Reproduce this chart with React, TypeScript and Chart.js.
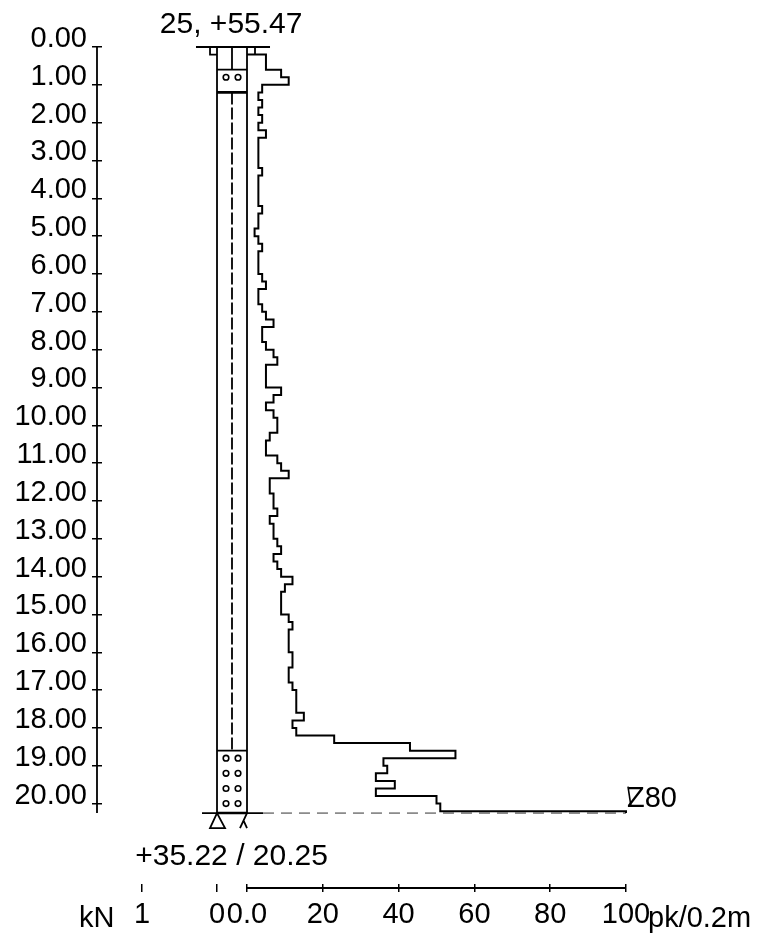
import React, { useEffect, useRef } from "react";
import { Chart, registerables } from "chart.js";

Chart.register(...registerables);

const FONT = "'Liberation Sans', Arial, sans-serif";
const FONT_SIZE = 29;
const NOTE_SIZE = 30;

// Blow counts per 0.2 m, first entry starts at 0.20 m depth
const STEP = 0.2;
const START_DEPTH = 0.2;
const END_DEPTH = 20.25;
const pkValues = [
  5, 5, 9, 11, 4, 3, 4, 3, 4, 3, 5,
  3, 3, 3, 3, 4, 3, 3, 3, 3, 4, 3, 3, 2, 3, 4, 3, 3, 3, 4, 5, 3, 3, 4, 5, 7,
  4, 4, 5, 7, 8, 5, 5, 5, 9, 7, 5, 7, 8, 8, 6, 5, 5, 8, 9, 11, 6, 6, 7, 7, 8,
  6, 7, 7, 8, 9, 7, 8, 9, 12, 10, 9, 9, 9, 11, 12, 11, 11, 11, 12, 12, 11, 11, 12,
  13, 13, 13, 15, 12, 13, 23, 43, 55, 36, 37, 34, 39, 34, 50, 51, 100,
];

const depthTicks = Array.from({ length: 21 }, (_, i) => i);
const pkTicks = [0, 20, 40, 60, 80, 100];
const knTicks = [1, 0];

const topLabel = "25, +55.47";
const bottomLabel = "+35.22 / 20.25";
const leftUnit = "kN";
const rightUnit = "pk/0.2m";
const endLabel = "Z80";

type P = { x: number; y: number } | { x: null; y: null };
const GAP: P = { x: null, y: null };

// Pile schematic, in pk (x) and depth (y) units
const WALL_L = -7.916;
const WALL_R = 0;
const CENTER = -3.96;
const CAP_L = -9.76;
const CAP_R = 2.11;
const TOP_L = -13.46;
const TOP_R = 6.07;
const BASE_L = -11.87;
const BASE_R = 4.22;
const AXIS_X = -39.58;
const AXIS_Y = 22.231;
const Y_MAX = 22.125;
const X_MIN = -38.26;
const X_MAX = 100;
const KN_MIN = -5.453;
const KN_MAX = 1.533;

const seg = (list: number[][]): P[] => {
  const out: P[] = [];
  list.forEach((s) => {
    for (let i = 0; i < s.length; i += 2) out.push({ x: s[i], y: s[i + 1] });
    out.push(GAP);
  });
  return out;
};

const pileLines = seg([
  [WALL_L, 0, WALL_L, END_DEPTH],
  [WALL_R, 0, WALL_R, END_DEPTH],
  [CENTER, 0, CENTER, 0.6],
  [TOP_L, 0, TOP_R, 0],
  [CAP_L, 0, CAP_L, 0.2, WALL_L, 0.2],
  [CAP_R, 0, CAP_R, 0.2],
  [WALL_L, 0.6, WALL_R, 0.6],
  [WALL_L, 18.6, WALL_R, 18.6],
  [BASE_L, END_DEPTH, BASE_R, END_DEPTH],
  [-7.916, 20.25, -9.76, 20.65, -5.8, 20.65, -7.916, 20.25],
  [0, 20.25, -1.85, 20.65],
  [-0.9, 20.45, 0, 20.65],
]);
const heavyLines = seg([
  [WALL_L, 1.2, WALL_R, 1.2],
  [WALL_L, END_DEPTH, WALL_R, END_DEPTH],
]);
const centerDash = seg([[CENTER, 1.2, CENTER, 18.6]]);
const waterDash = seg([[BASE_R, END_DEPTH, 100, END_DEPTH]]);
const holeXs = [-5.54, -2.37];
const holeDepths = [0.8, 18.8, 19.2, 19.6, 20.0];
const holes = holeDepths.flatMap((y) => holeXs.map((x) => ({ x, y })));
const depthAxis = seg([[AXIS_X, 0, AXIS_X, END_DEPTH]]);
const pkAxis = seg([[0, AXIS_Y, 100, AXIS_Y]]);
const knAxis = seg([[1, AXIS_Y, 0, AXIS_Y]]);

const profile = (): P[] => {
  const pts: P[] = [{ x: 0, y: START_DEPTH }];
  pkValues.forEach((v, i) => {
    const d0 = START_DEPTH + i * STEP;
    const d1 = i === pkValues.length - 1 ? END_DEPTH : d0 + STEP;
    pts.push({ x: v, y: d0 }, { x: v, y: d1 });
  });
  return pts;
};

const line = (data: P[], extra: object = {}) => ({
  type: "scatter" as const,
  data,
  showLine: true,
  spanGaps: false,
  borderColor: "#000",
  borderWidth: 1.8,
  pointRadius: 0,
  tension: 0,
  clip: false,
  xAxisID: "x",
  yAxisID: "y",
  ...extra,
});

const textPlugin = {
  id: "labels",
  afterDraw(chart: any) {
    const { ctx, scales } = chart;
    const px = (v: number) => scales.x.getPixelForValue(v);
    const py = (v: number) => scales.y.getPixelForValue(v);
    ctx.save();
    ctx.fillStyle = "#000";
    ctx.strokeStyle = "#000";
    ctx.font = `${NOTE_SIZE}px ${FONT}`;
    ctx.textBaseline = "alphabetic";
    ctx.textAlign = "left";
    ctx.fillText(topLabel, px(-23), 33);
    ctx.fillText(bottomLabel, px(-29.5), py(21.63));
    ctx.font = `${FONT_SIZE}px ${FONT}`;
    ctx.fillText(leftUnit, 79, 927);
    ctx.fillText(rightUnit, 648, 927);
    const ex = px(100) + 1;
    const ey = py(20.0) + 3;
    ctx.fillText(endLabel, ex, ey);
    ctx.lineWidth = 1.6;
    ctx.beginPath();
    ctx.moveTo(ex + 1, ey - 20);
    ctx.lineTo(ex + 4, ey);
    ctx.stroke();
    ctx.restore();
  },
};

export default function App() {
  const ref = useRef<HTMLCanvasElement>(null);
  useEffect(() => {
    const tickFont = { family: FONT, size: FONT_SIZE };
    const chart = new Chart(ref.current!, {
      type: "scatter",
      plugins: [textPlugin],
      data: {
        datasets: [
          line(profile(), { borderWidth: 2 }),
          line(pileLines),
          line(heavyLines, { borderWidth: 2.6 }),
          line(centerDash, { borderDash: [12, 3] }),
          line(waterDash, { borderWidth: 1, borderDash: [11, 7], borderColor: "#333" }),
          line(depthAxis),
          line(pkAxis),
          line(knAxis),
          {
            type: "scatter",
            data: holes,
            showLine: false,
            pointRadius: 2.8,
            pointBackgroundColor: "#fff",
            pointBorderColor: "#000",
            pointBorderWidth: 1.6,
            clip: false,
            xAxisID: "x",
            yAxisID: "y",
          },
        ],
      } as any,
      options: {
        responsive: false,
        animation: false,
        layout: { padding: { top: 47, right: 134, bottom: 52, left: 0 } },
        plugins: { legend: { display: false }, tooltip: { enabled: false } },
        scales: {
          x: {
            type: "linear",
            position: { y: Y_MAX } as any,
            min: X_MIN,
            max: X_MAX,
            border: { display: false },
            grid: { drawOnChartArea: false, drawTicks: true, tickLength: 8, color: "#000", lineWidth: 1.5 },
            afterBuildTicks: (s: any) => {
              s.ticks = pkTicks.map((value) => ({ value }));
            },
            ticks: {
              autoSkip: false,
              maxRotation: 0,
              color: "#000",
              font: tickFont,
              padding: 6,
              callback: (v: any) => (v === 0 ? "0.0" : String(v)),
            },
          },
          kn: {
            type: "linear",
            axis: "x",
            position: { y: Y_MAX } as any,
            min: KN_MIN,
            max: KN_MAX,
            reverse: true,
            border: { display: false },
            grid: { drawOnChartArea: false, drawTicks: true, tickLength: 8, color: "#000", lineWidth: 1.5 },
            afterBuildTicks: (s: any) => {
              s.ticks = knTicks.map((value) => ({ value }));
            },
            ticks: {
              autoSkip: false,
              maxRotation: 0,
              color: "#000",
              font: tickFont,
              padding: 6,
              callback: (v: any) => String(v),
            },
          },
          y: {
            type: "linear",
            position: "left",
            reverse: true,
            min: 0,
            max: Y_MAX,
            border: { display: false },
            grid: { drawOnChartArea: false, drawTicks: true, tickLength: 10, color: "#000", lineWidth: 1.5 },
            afterFit: (s: any) => {
              s.width = 102;
            },
            afterBuildTicks: (s: any) => {
              s.ticks = depthTicks.map((value) => ({ value }));
            },
            ticks: {
              autoSkip: false,
              color: "#000",
              font: tickFont,
              padding: 5,
              labelOffset: -8,
              callback: (v: any) => Number(v).toFixed(2),
            },
          },
        },
      } as any,
    });
    return () => chart.destroy();
  }, []);
  return (
    <canvas
      ref={ref}
      width={760}
      height={936}
      style={{ position: "fixed", left: 0, top: 0, width: 760, height: 936, background: "#fff" }}
    />
  );
}
